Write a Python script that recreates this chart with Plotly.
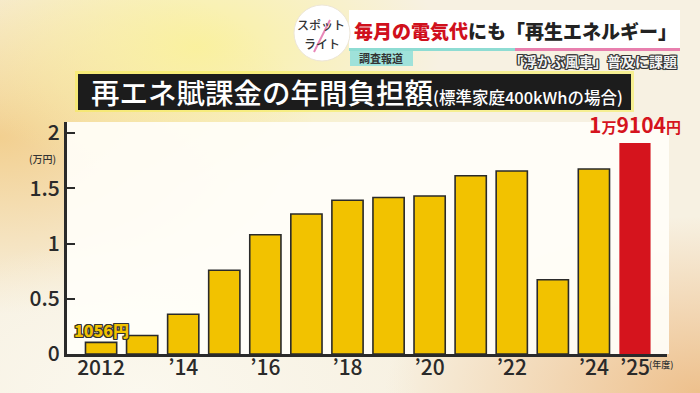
import base64
import plotly.graph_objects as go

# ---------------- data ----------------
years = list(range(2012, 2026))
values_man_yen = [0.1056, 0.168, 0.36, 0.7584, 1.08, 1.2672, 1.392, 1.416,
                  1.4304, 1.6128, 1.656, 0.672, 1.6752, 1.9104]
x_tick_years = [2012, 2014, 2016, 2018, 2020, 2022, 2024, 2025]
x_tick_labels = ["2012", "’14", "’16", "’18", "’20", "’22", "’24", "’25"]
y_tick_values = [0, 0.5, 1, 1.5, 2]
y_tick_labels = ["0", "0.5", "1", "1.5", "2"]
first_label = "1056円"
last_label = "1<span style='font-size:15px'>万</span>9104<span style='font-size:15px'>円</span>"

# ---------------- geometry helpers ----------------
W, H = 700, 393
L, R, T, B = 67, 33, 122, 39
PW, PH = W - L - R, H - T - B


def px(x):
    return (x - L) / PW


def py(y):
    return (H - B - y) / PH


FONT = "Noto Sans CJK JP"
YELLOW = "#F2C200"
RED = "#D5141D"
DARK = "#2a2a2a"

colors = [YELLOW] * (len(years) - 1) + [RED]
line_w = [1.6] * (len(years) - 1) + [0]
line_c = [DARK] * (len(years) - 1) + [RED]

fig = go.Figure(go.Bar(
    x=years, y=values_man_yen, width=0.76,
    marker=dict(color=colors, line=dict(color=line_c, width=line_w)),
    hoverinfo="skip",
))

# background gradient as an SVG image
svg = f"""<svg xmlns='http://www.w3.org/2000/svg' width='{W}' height='{H}' viewBox='0 0 {W} {H}'>
<defs>
<radialGradient id='a' cx='0' cy='0.35' r='0.45'><stop offset='0' stop-color='#F2CE8C' stop-opacity='0.95'/><stop offset='1' stop-color='#F2CE8C' stop-opacity='0'/></radialGradient>
<radialGradient id='b' cx='0.28' cy='0.12' r='0.35'><stop offset='0' stop-color='#FAF19C' stop-opacity='0.95'/><stop offset='1' stop-color='#FAF19C' stop-opacity='0'/></radialGradient>
<radialGradient id='c' cx='1' cy='1' r='0.45'><stop offset='0' stop-color='#EEC08C' stop-opacity='1'/><stop offset='1' stop-color='#EEC08C' stop-opacity='0'/></radialGradient>
<radialGradient id='d' cx='0.2' cy='1' r='0.4'><stop offset='0' stop-color='#FBF8EE' stop-opacity='1'/><stop offset='1' stop-color='#FBF8EE' stop-opacity='0'/></radialGradient>
</defs>
<rect width='{W}' height='{H}' fill='#F7F1E2'/>
<rect width='{W}' height='{H}' fill='url(#a)'/>
<rect width='{W}' height='{H}' fill='url(#b)'/>
<rect width='{W}' height='{H}' fill='url(#c)'/>
<rect width='{W}' height='{H}' fill='url(#d)'/>
</svg>"""
src = "data:image/svg+xml;base64," + base64.b64encode(svg.encode()).decode()

fig.add_layout_image(dict(
    source=src, xref="paper", yref="paper", x=px(0), y=py(0),
    sizex=W / PW, sizey=H / PH, xanchor="left", yanchor="top",
    sizing="stretch", layer="below",
))

shapes = []
# white chart panel
shapes.append(dict(type="rect", xref="paper", yref="paper", layer="below",
                   x0=px(67), x1=px(669), y0=py(354), y1=py(122),
                   fillcolor="rgba(255,254,248,0.92)", line=dict(width=0)))
# title bar glow + black bar
shapes.append(dict(type="rect", xref="paper", yref="paper", layer="above",
                   x0=px(75), x1=px(634), y0=py(112), y1=py(71),
                   fillcolor="rgba(245,236,80,0.55)", line=dict(width=0)))
shapes.append(dict(type="rect", xref="paper", yref="paper", layer="above",
                   x0=px(78), x1=px(631), y0=py(110), y1=py(74),
                   fillcolor="#1c1c1c", line=dict(width=0)))
# header banner
shapes.append(dict(type="rect", xref="paper", yref="paper", layer="above",
                   x0=px(349), x1=px(680), y0=py(50), y1=py(10),
                   fillcolor="#FFFFFF", line=dict(width=0)))
shapes.append(dict(type="rect", xref="paper", yref="paper", layer="above",
                   x0=px(349), x1=px(515), y0=py(51), y1=py(48),
                   fillcolor="#8EDCD3", line=dict(width=0)))
shapes.append(dict(type="rect", xref="paper", yref="paper", layer="above",
                   x0=px(515), x1=px(680), y0=py(51), y1=py(48),
                   fillcolor="#E87FAE", line=dict(width=0)))
# 調査報道 tag
shapes.append(dict(type="rect", xref="paper", yref="paper", layer="above",
                   x0=px(350), x1=px(413), y0=py(66), y1=py(51),
                   fillcolor="#9FE2DA", line=dict(width=0)))
# logo circle
shapes.append(dict(type="circle", xref="paper", yref="paper", layer="above",
                   x0=px(294), x1=px(350), y0=py(61), y1=py(5),
                   fillcolor="#FFFFFF", line=dict(color="#EDE6D8", width=1)))
shapes.append(dict(type="line", xref="paper", yref="paper", layer="above",
                   x0=px(330), x1=px(314), y0=py(20), y1=py(52),
                   line=dict(color="#E886B8", width=2)))

outline = ("-1px -1px 0 #333, 1px -1px 0 #333, -1px 1px 0 #333, 1px 1px 0 #333, "
           "0 1px 0 #333, 0 -1px 0 #333, 1px 0 0 #333, -1px 0 0 #333")

ann = []
# title
ann.append(dict(xref="paper", yref="paper", x=px(89), y=py(92), xanchor="left", yanchor="middle",
                text="再エネ賦課金の年間負担額<span style='font-size:16.5px'>(標準家庭400kWhの場合)</span>",
                showarrow=False, font=dict(family=FONT, size=28.5, color="#FFFFFF", weight=500)))
# header
ann.append(dict(xref="paper", yref="paper", x=px(515), y=py(30), xanchor="center", yanchor="middle",
                text="<span style='color:#D0101C'>毎月の電気代</span>にも「再生エネルギー」",
                showarrow=False, font=dict(family=FONT, size=19, color="#222222", weight=900)))
ann.append(dict(xref="paper", yref="paper", x=px(381), y=py(58.5), xanchor="center", yanchor="middle",
                text="調査報道", showarrow=False,
                font=dict(family=FONT, size=11, color="#333333", weight=700)))
ann.append(dict(xref="paper", yref="paper", x=px(679), y=py(61), xanchor="right", yanchor="middle",
                text="「浮かぶ風車」普及に課題", showarrow=False,
                font=dict(family=FONT, size=14, color="#F2F2F2", weight=700, shadow=outline)))
ann.append(dict(xref="paper", yref="paper", x=px(321), y=py(24), xanchor="center", yanchor="middle",
                text="スポット", showarrow=False,
                font=dict(family=FONT, size=12, color="#333333", weight=500)))
ann.append(dict(xref="paper", yref="paper", x=px(322), y=py(44), xanchor="center", yanchor="middle",
                text="ライト", showarrow=False,
                font=dict(family=FONT, size=12, color="#333333", weight=500)))
# axis unit labels
ann.append(dict(xref="paper", yref="paper", x=px(42), y=py(158), xanchor="center", yanchor="middle",
                text="(万円)", showarrow=False,
                font=dict(family=FONT, size=10, color="#333333", weight=500)))
ann.append(dict(xref="paper", yref="paper", x=px(661), y=py(364), xanchor="center", yanchor="middle",
                text="(年度)", showarrow=False,
                font=dict(family=FONT, size=9, color="#333333", weight=500)))
# bar value labels
ann.append(dict(xref="x", yref="y", x=years[0], y=values_man_yen[0], xanchor="center", yanchor="bottom",
                yshift=-2, text=first_label, showarrow=False,
                font=dict(family=FONT, size=16, color=YELLOW, weight=900, shadow=outline)))
ann.append(dict(xref="x", yref="y", x=years[-1], y=values_man_yen[-1], xanchor="center", yanchor="bottom",
                yshift=2, text=last_label, showarrow=False,
                font=dict(family=FONT, size=21, color=RED, weight=700)))

fig.update_layout(
    width=W, height=H,
    margin=dict(l=L, r=R, t=T, b=B, pad=0, autoexpand=False),
    paper_bgcolor="#F7F1E2", plot_bgcolor="rgba(0,0,0,0)",
    showlegend=False, bargap=0.24,
    shapes=shapes, annotations=ann,
    font=dict(family=FONT, color=DARK),
)
fig.update_xaxes(
    range=[2011.17, 2025.78], tickvals=x_tick_years, ticktext=x_tick_labels,
    showline=True, linecolor=DARK, linewidth=3, showgrid=False, zeroline=False,
    ticks="", tickfont=dict(family=FONT, size=21, color=DARK, weight=500),
    ticklabelstandoff=-7, automargin=False,
    fixedrange=True,
)
fig.update_yaxes(
    range=[0, 2.1], tickvals=y_tick_values, ticktext=y_tick_labels,
    showline=True, linecolor=DARK, linewidth=3, showgrid=False, zeroline=False,
    ticks="inside", ticklen=8, tickwidth=2, tickcolor=DARK,
    tickfont=dict(family=FONT, size=21, color=DARK, weight=500),
    automargin=False,
    fixedrange=True,
)

fig.write_html("out.html", config={"displayModeBar": False},
               post_script="document.body.style.margin='0';document.body.style.overflow='hidden';")
